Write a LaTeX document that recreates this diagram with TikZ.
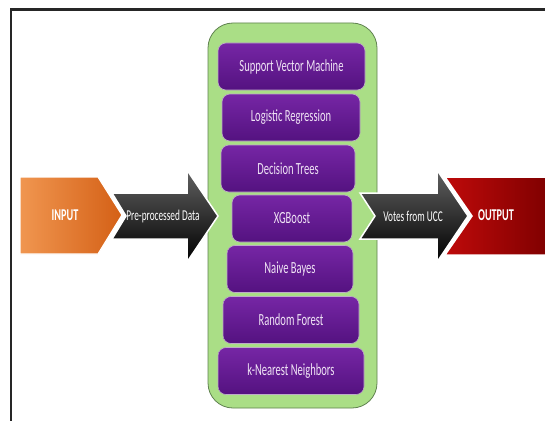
\documentclass[tikz,border=0pt]{standalone}
\usepackage{fontspec}
\setmainfont{Carlito}[FakeStretch=0.62]
\definecolor{greenfill}{RGB}{170,222,134}
\definecolor{greenedge}{RGB}{96,130,80}
\definecolor{purpletop}{RGB}{118,38,165}
\definecolor{purplebot}{RGB}{84,18,128}
\definecolor{purpleedge}{RGB}{190,170,200}
\definecolor{labeltext}{RGB}{240,228,245}
\definecolor{orangelight}{RGB}{240,150,80}
\definecolor{orangedark}{RGB}{212,96,22}
\definecolor{redlight}{RGB}{190,10,10}
\definecolor{reddark}{RGB}{125,0,0}
\tikzset{
  frameline/.style={line width=2.5pt, black!85},
  greenbox/.style={rounded corners=25pt, fill=greenfill, draw=greenedge, line width=0.8pt},
  algbox/.style={rounded corners=8pt, top color=purpletop, bottom color=purplebot, draw=purpleedge, line width=0.6pt,
    minimum height=47pt, inner sep=0pt, text=labeltext, font=\fontsize{17}{18}\selectfont},
  inputarrow/.style={left color=orangelight, right color=orangedark, draw=white, line width=1.2pt},
  blackarrow/.style={top color=black!62, bottom color=black, draw=white, line width=1.5pt},
  outputarrow/.style={left color=redlight, right color=reddark, draw=white, line width=1.5pt},
  boldtext/.style={text=white, font=\bfseries\fontsize{16.5}{17}\selectfont},
  arrowtext/.style={text=white, font=\fontsize{15}{16}\selectfont}
}
\begin{document}
\begin{tikzpicture}[x=1pt,y=-1pt]
\useasboundingbox (0,0) rectangle (545,420);
\clip (0,0) rectangle (545,420);
\fill[white] (0,0) rectangle (545,420);
\draw[frameline] (11,425) -- (11,9.5) -- (550,9.5);

% ensemble container
\draw[greenbox] (208,23) rectangle (377,408);

% classifiers
\node[algbox, minimum width=147pt] (svm) at (291.5,66.5) {Support Vector Machine};
\node[algbox, minimum width=138pt] (lr)  at (291,117.5) {Logistic Regression};
\node[algbox, minimum width=134pt] (dt)  at (288,168.5) {Decision Trees};
\node[algbox, minimum width=120pt] (xgb) at (292,218.5) {XGBoost};
\node[algbox, minimum width=126pt] (nb)  at (290,269) {Naive Bayes};
\node[algbox, minimum width=136pt] (rf)  at (291,320) {Random Forest};
\node[algbox, minimum width=146pt] (knn) at (291,371) {k-Nearest Neighbors};

% input chevron
\path[inputarrow] (20,177) -- (98,177) -- (122,215) -- (98,254) -- (20,254) -- cycle;
% arrow 1
\path[blackarrow] (112,193) -- (187,193) -- (187,170) -- (218,216) -- (187,262) -- (187,239) -- (112,239) -- (126,216) -- cycle;
% arrow 2
\path[blackarrow] (360,193) -- (437,193) -- (437,170) -- (468,216) -- (437,262) -- (437,239) -- (360,239) -- (375,216) -- cycle;
% output
\path[outputarrow] (445,177) -- (552,177) -- (552,255) -- (445,255) -- (472,216) -- cycle;

\node[boldtext] (input) at (65,215) {INPUT};
\node[arrowtext] (pre) at (163,216) {Pre-processed Data};
\node[arrowtext] (votes) at (413,216) {Votes from UCC};
\node[boldtext] (output) at (496,215) {OUTPUT};
\end{tikzpicture}
\end{document}
